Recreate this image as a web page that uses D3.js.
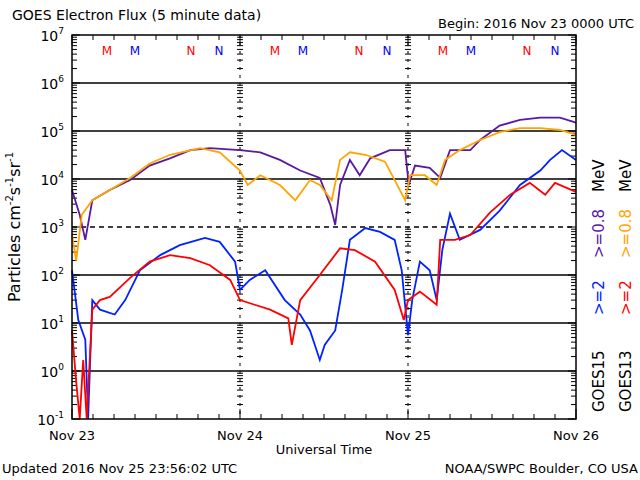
<!DOCTYPE html><html><head><meta charset="utf-8">
<script src="https://cdn.jsdelivr.net/npm/d3@7"></script>
<style>body{margin:0;background:#fff}text{font-family:"DejaVu Sans",sans-serif}</style></head><body>
<svg id="c" width="640" height="480"></svg>
<script>
const dayLabels=["Nov 23","Nov 24","Nov 25","Nov 26"];
const yExps=[-1,0,1,2,3,4,5,6,7];
const purpleH=[0,1.1,1.9,2.9,5.4,8.3,11.1,14,16.9,19.7,24,26.9,29.7,32.6,35.4,36.9,37.6,38.3,39.7,41.1,42.6,45.4,47.6,48.1,49,51.1,52.6,54,56.9,58.3,61.1,64,66.9,69.7,72];
const purpleV=[5.9e3,1.8e3,540,3.6e3,5.9e3,9.5e3,1.9e4,2.7e4,4e4,4.4e4,4e4,3.6e4,2.5e4,1.5e4,1.05e4,2.9e3,1.1e3,7.5e3,2.5e4,1.2e4,2.7e4,4e4,4e4,7.5e3,1.9e4,1.7e4,1.05e4,4e4,4e4,6.5e4,1.3e5,1.7e5,1.9e5,1.9e5,1.5e5];
const orangeH=[0,0.6,1.4,2.9,5.4,8.3,11.1,14,18.3,21.1,24,25.1,26.9,29.7,31.9,34,35.4,37.1,38.3,39.7,41.9,44.7,46.1,47.6,48.3,50.4,52.1,53.3,55.4,58.3,61.1,64,66.9,69.7,72];
const orangeV=[680,200,1.8e3,3.6e3,5.9e3,1.05e4,2.1e4,3.2e4,4.4e4,3.6e4,1.5e4,7.5e3,1.2e4,7.5e3,3.6e3,9.5e3,7.5e3,3.6e3,2.5e4,3.6e4,3.2e4,2.3e4,9.5e3,3.6e3,1.2e4,1.2e4,7.5e3,2.5e4,4e4,6.5e4,9.5e4,1.15e5,1.15e5,1.05e5,8.3e4];
const blueH=[0,0.9,1.9,2.3,2.9,4,6.1,7.6,9.7,12.6,15.4,19,21.1,23.3,24,25.4,27.6,30.4,32.6,34,35.4,36.1,37.6,38.6,39.7,41.9,44,46.1,47.1,48,48.6,49.7,51.1,52.1,52.9,54,55.4,58.3,61.1,64,66.9,68.3,70,72];
const blueV=[125,11.5,4.5,0.1,30,19,15,30,125,260,420,590,490,190,49,79,125,30,15,7,1.7,3.5,7,49,540,950,790,540,125,5.6,30,190,125,30,330,1.9e3,540,870,2.2e3,7.5e3,1.5e4,2.5e4,4e4,2.5e4];
const redH=[0,0.6,1.1,1.6,2.1,2.9,4,5.4,8.3,11.1,14,16.9,19.7,22.6,24,26.1,28.3,30.9,31.4,32.6,35.4,38.3,40.4,43.3,46.1,47.4,48,49.7,52.1,52.6,54.7,56.9,59.7,62.6,65.4,67.6,69,72];
const redV=[7,0.6,0.1,1.7,0.1,19,30,35,87,190,260,225,160,79,30,24,19,12.5,3.5,30,100,360,330,190,49,11.5,30,45,24,540,540,680,2e3,4.7e3,8.3e3,4.7e3,8.3e3,5.4e3];
const markLetters=["M","M","N","N"],markHours=[5,9,17,21],markColors=["#f00","#00f","#f00","#00f"];

const svg=d3.select("#c");
const L=72,R=576,T=35,B=419;
const x=d3.scaleLinear().domain([0,72]).range([L,R]);
const y=d3.scaleLog().domain([0.1,1e7]).range([B,T]);
yExps.slice(1,-1).forEach(e=>{svg.append("line").attr("x1",L).attr("x2",R).attr("y1",y(10**e)).attr("y2",y(10**e)).attr("stroke","#000").attr("stroke-width",1.3).attr("stroke-dasharray",e===3?"5,4":null);});
[24,48].forEach(h=>{svg.append("line").attr("x1",x(h)).attr("x2",x(h)).attr("y1",T).attr("y2",B).attr("stroke","#000").attr("stroke-dasharray","3,5");});
const minors=[];yExps.slice(0,-1).forEach(e=>{for(let k=2;k<=9;k++)minors.push(k*10**e)});
const tickAt=(xx,len)=>minors.forEach(v=>svg.append("line").attr("x1",xx).attr("x2",xx+len).attr("y1",y(v)).attr("y2",y(v)).attr("stroke","#000"));
tickAt(L,5);tickAt(R,-5);[24,48].forEach(h=>tickAt(x(h)-3,6));
yExps.forEach(e=>{[[L,8],[R,-8]].forEach(([xx,l])=>svg.append("line").attr("x1",xx).attr("x2",xx+l).attr("y1",y(10**e)).attr("y2",y(10**e)).attr("stroke","#000"));});
d3.range(0,73,3).forEach(h=>{svg.append("line").attr("x1",x(h)).attr("x2",x(h)).attr("y1",B).attr("y2",B-(h%24?5:10)).attr("stroke","#000");svg.append("line").attr("x1",x(h)).attr("x2",x(h)).attr("y1",T).attr("y2",T+(h%24?5:10)).attr("stroke","#000");});
const line=d3.line().x(d=>x(d[0])).y(d=>y(Math.max(d[1],0.1)));
[[purpleH,purpleV,"#5a1aa0"],[orangeH,orangeV,"#ffa500"],[blueH,blueV,"#0022ff"],[redH,redV,"#ff0000"]].forEach(([h,v,c])=>{
 svg.append("path").attr("d",line(h.map((t,i)=>[t,v[i]]))).attr("fill","none").attr("stroke",c).attr("stroke-width",1.8);});
svg.append("rect").attr("x",L).attr("y",T).attr("width",R-L).attr("height",B-T).attr("fill","none").attr("stroke","#000").attr("stroke-width",1.5);
[0,24,48].forEach(d=>markHours.forEach((h,i)=>svg.append("text").attr("x",x(d+h)).attr("y",55).attr("text-anchor","middle").attr("font-size",12).attr("fill",markColors[i]).text(markLetters[i])));
yExps.forEach(e=>{const t=svg.append("text").attr("x",64).attr("y",y(10**e)+6).attr("text-anchor","end").attr("font-size",14);t.append("tspan").text("10");t.append("tspan").attr("font-size",9).attr("dy",-7).text(e);});
dayLabels.forEach((d,i)=>svg.append("text").attr("x",x(i*24)).attr("y",440).attr("text-anchor","middle").attr("font-size",13).text(d));
svg.append("text").attr("x",324).attr("y",454).attr("text-anchor","middle").attr("font-size",13).text("Universal Time");
svg.append("text").attr("x",12).attr("y",20).attr("font-size",14).text("GOES Electron Flux (5 minute data)");
svg.append("text").attr("x",634).attr("y",28).attr("text-anchor","end").attr("font-size",13).text("Begin: 2016 Nov 23 0000 UTC");
svg.append("text").attr("x",2).attr("y",473).attr("font-size",13).text("Updated 2016 Nov 25 23:56:02 UTC");
svg.append("text").attr("x",638).attr("y",473).attr("text-anchor","end").attr("font-size",13).text("NOAA/SWPC Boulder, CO USA");
const yl=svg.append("text").attr("transform","translate(20,227) rotate(-90)").attr("text-anchor","middle").attr("font-size",16);
yl.append("tspan").text("Particles cm");yl.append("tspan").attr("font-size",10).attr("dy",-7).text("-2");yl.append("tspan").attr("dy",7).text("s");yl.append("tspan").attr("font-size",10).attr("dy",-7).text("-1");yl.append("tspan").attr("dy",7).text("sr");yl.append("tspan").attr("font-size",10).attr("dy",-7).text("-1");
const leg=(xx,yy,txt,c)=>svg.append("text").attr("transform",`translate(${xx},${yy}) rotate(-90)`).attr("font-size",15).attr("fill",c).text(txt);
leg(604,412,"GOES15","#000");leg(631,412,"GOES13","#000");
leg(604,315,">=2","#0022ff");leg(631,315,">=2","#ff0000");
leg(604,258,">=0.8","#5a1aa0");leg(631,258,">=0.8","#ffa500");
leg(604,192,"MeV","#000");leg(631,192,"MeV","#000");
</script></body></html>
